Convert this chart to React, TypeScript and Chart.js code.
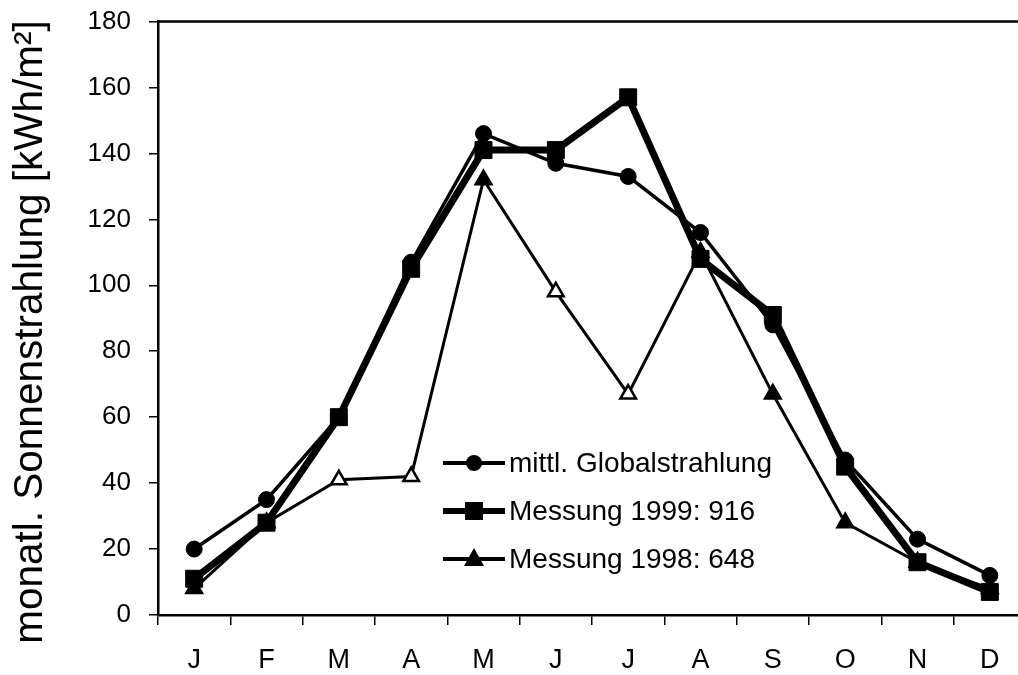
import React, { useEffect, useRef } from 'react';
import { Chart, registerables } from 'chart.js';
Chart.register(...registerables);

const months = ['J', 'F', 'M', 'A', 'M', 'J', 'J', 'A', 'S', 'O', 'N', 'D'];
const globalMean = [20, 35, 60, 107, 146, 137, 133, 116, 88, 47, 23, 12];
const meas1999 = [11, 28, 60, 105, 141, 141, 157, 108, 91, 45, 16, 7];
const meas1998 = [8, 28, 41, 42, 132, 98, 67, 110, 67, 28, 16, 8];
const open1998 = [false, false, true, true, false, true, true, false, false, false, false, false];
const labelMean = 'mittl. Globalstrahlung';
const label1999 = 'Messung 1999: 916';
const label1998 = 'Messung 1998: 648';
const yTitle = 'monatl. Sonnenstrahlung [kWh/m²]';
const yMin = 0;
const yMax = 180;
const yStep = 20;

const FONT = '"Liberation Sans", Arial, Helvetica, sans-serif';

function drawMarker(ctx: CanvasRenderingContext2D, style: string, x: number, y: number, r: number) {
  ctx.beginPath();
  if (style === 'circle') {
    ctx.arc(x, y, r, 0, Math.PI * 2);
  } else if (style === 'rect') {
    ctx.rect(x - r, y - r, 2 * r, 2 * r);
  } else {
    ctx.moveTo(x, y - r * 1.1);
    ctx.lineTo(x + r, y + r * 0.7);
    ctx.lineTo(x - r, y + r * 0.7);
    ctx.closePath();
  }
  ctx.fill();
}

const legendPlugin = {
  id: 'inlineLegend',
  afterDatasetsDraw(chart: any) {
    const ctx = chart.ctx as CanvasRenderingContext2D;
    const rows = [463, 511, 559];
    const x0 = 443, x1 = 505, xm = 474, tx = 509;
    const sizes = [8, 9, 10];
    const widths = [4, 6, 4];
    chart.data.datasets.forEach((ds: any, i: number) => {
      const y = rows[i];
      ctx.save();
      ctx.strokeStyle = '#000';
      ctx.fillStyle = '#000';
      ctx.lineWidth = widths[i];
      ctx.beginPath();
      ctx.moveTo(x0, y);
      ctx.lineTo(x1, y);
      ctx.stroke();
      drawMarker(ctx, ds.pointStyle, xm, y, sizes[i]);
      ctx.font = `28px ${FONT}`;
      ctx.textBaseline = 'middle';
      ctx.textAlign = 'left';
      ctx.fillText(ds.label, tx, y + 1);
      ctx.restore();
    });
  },
};

const framePlugin = {
  id: 'frameAndTitle',
  afterDraw(chart: any) {
    const ctx = chart.ctx as CanvasRenderingContext2D;
    const a = chart.chartArea;
    ctx.save();
    ctx.strokeStyle = '#000';
    ctx.lineWidth = 2.5;
    ctx.beginPath();
    ctx.moveTo(a.left, a.top);
    ctx.lineTo(a.right, a.top);
    ctx.lineTo(a.right, a.bottom);
    ctx.stroke();
    ctx.translate(31, 332);
    ctx.rotate(-Math.PI / 2);
    ctx.font = `40.5px ${FONT}`;
    ctx.fillStyle = '#000';
    ctx.textAlign = 'center';
    ctx.textBaseline = 'middle';
    ctx.fillText(yTitle, 0, 0);
    ctx.restore();
  },
};

export default function App() {
  const ref = useRef<HTMLCanvasElement | null>(null);
  useEffect(() => {
    if (!ref.current) return;
    const chart = new Chart(ref.current, {
      type: 'line',
      data: {
        labels: months,
        datasets: [
          {
            label: labelMean,
            data: globalMean,
            borderColor: '#000',
            backgroundColor: '#000',
            borderWidth: 3.5,
            pointStyle: 'circle',
            pointRadius: 8,
            pointBackgroundColor: '#000',
            pointBorderColor: '#000',
            pointBorderWidth: 1,
            tension: 0,
          },
          {
            label: label1999,
            data: meas1999,
            borderColor: '#000',
            backgroundColor: '#000',
            borderWidth: 7,
            pointStyle: 'rect',
            pointRadius: 12,
            pointBackgroundColor: '#000',
            pointBorderColor: '#000',
            pointBorderWidth: 1,
            tension: 0,
          },
          {
            label: label1998,
            data: meas1998,
            borderColor: '#000',
            backgroundColor: '#000',
            borderWidth: 3,
            pointStyle: 'triangle',
            pointRadius: 9,
            pointBackgroundColor: open1998.map((o) => (o ? '#fff' : '#000')),
            pointBorderColor: '#000',
            pointBorderWidth: 2.5,
            tension: 0,
          },
        ],
      },
      options: {
        animation: false,
        responsive: false,
        devicePixelRatio: 1,
        layout: { padding: { top: 21.5, right: 14, left: 0, bottom: 0 } },
        plugins: { legend: { display: false }, tooltip: { enabled: false } },
        elements: { line: { borderJoinStyle: 'miter' } },
        scales: {
          x: {
            offset: true,
            grid: {
              offset: true,
              drawOnChartArea: false,
              drawTicks: true,
              tickLength: 10,
              color: '#000',
              lineWidth: 1.5,
            },
            border: { color: '#000', width: 2.5 },
            ticks: {
              color: '#000',
              font: { family: FONT, size: 27 },
              padding: 19,
              maxRotation: 0,
              autoSkip: false,
            },
            afterFit: (s: any) => {
              s.height = 60;
              s.paddingLeft = 0;
              s.paddingRight = 0;
            },
          },
          y: {
            min: yMin,
            max: yMax,
            grid: {
              drawOnChartArea: false,
              drawTicks: true,
              tickLength: 9,
              color: '#000',
              lineWidth: 1.5,
            },
            border: { color: '#000', width: 2.5 },
            ticks: {
              stepSize: yStep,
              color: '#000',
              font: { family: FONT, size: 26 },
              padding: 18,
            },
            afterFit: (s: any) => {
              s.width = 158;
              s.paddingTop = 0;
              s.paddingBottom = 0;
            },
          },
        },
      },
      plugins: [legendPlugin, framePlugin],
    });
    return () => chart.destroy();
  }, []);
  return (
    <div style={{ position: 'fixed', left: 0, top: 0, width: 1018, height: 675, overflow: 'hidden', background: '#fff' }}>
      <canvas ref={ref} width={1040} height={675} style={{ display: 'block', width: 1040, height: 675 }} />
    </div>
  );
}
